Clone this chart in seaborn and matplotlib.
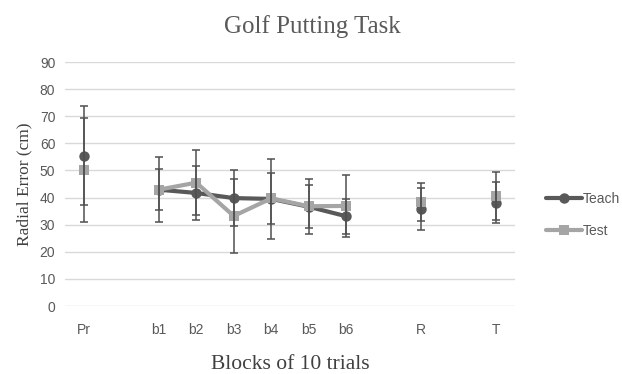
import matplotlib
matplotlib.use("Agg")
import matplotlib.pyplot as plt
from matplotlib.lines import Line2D
import numpy as np
import pandas as pd
import seaborn as sns

# category slots on the x axis (blank slots leave the gaps)
slots = ['Pr', '', 'b1', 'b2', 'b3', 'b4', 'b5', 'b6', '', 'R', '', 'T']
blocks = ['Pr', 'b1', 'b2', 'b3', 'b4', 'b5', 'b6', 'R', 'T']
connected = ['b1', 'b2', 'b3', 'b4', 'b5', 'b6']

teach_mean = [55.5, 42.9, 41.7, 39.8, 39.5, 36.6, 33.1, 35.7, 38.1]
teach_err = [18.3, 12.0, 9.8, 10.4, 14.8, 10.2, 6.5, 7.8, 7.5]
test_mean = [50.2, 42.9, 45.5, 33.2, 39.7, 36.8, 36.9, 38.4, 40.7]
test_err = [19.2, 7.5, 12.1, 13.8, 9.5, 8.0, 11.4, 7.1, 8.9]

teach_col = '#595959'
test_col = '#a5a5a5'
err_col = '#505050'

pos = {lab: i for i, lab in enumerate(slots) if lab}
df = pd.DataFrame({
    'block': blocks * 2,
    'series': ['Teach'] * len(blocks) + ['Test'] * len(blocks),
    'mean': teach_mean + test_mean,
    'err': teach_err + test_err,
})
df['x'] = df['block'].map(pos)

sns.set_theme(style='white')
fig = plt.figure(figsize=(6.22, 3.74), dpi=100)
ax = fig.add_axes([65 / 622, 68 / 374, 450 / 622, 244 / 374])

styles = {'Teach': (teach_col, 'o', 7.5), 'Test': (test_col, 's', 7.5)}
for i, name in enumerate(['Teach', 'Test']):
    col, mk, ms = styles[name]
    sub = df[df['series'] == name]
    line = sub[sub['block'].isin(connected)]
    sns.lineplot(data=line, x='x', y='mean', color=col, linewidth=3.0,
                 marker=mk, markersize=ms, markeredgewidth=0, ax=ax,
                 zorder=3 + i, estimator=None, sort=False)
    pts = sub[~sub['block'].isin(connected)]
    ax.plot(pts['x'], pts['mean'], linestyle='none', marker=mk,
            markersize=ms, color=col, markeredgewidth=0, zorder=3 + i)

for name in ['Teach', 'Test']:
    sub = df[df['series'] == name]
    ax.errorbar(sub['x'], sub['mean'], yerr=sub['err'], fmt='none',
                ecolor=err_col, elinewidth=1.1, capsize=3.2,
                capthick=1.1, zorder=6)

ax.set_xlim(-0.5, len(slots) - 0.5)
ax.set_ylim(0, 90)
ax.set_yticks(np.arange(0, 91, 10))
ax.set_xticks(range(len(slots)))
ax.set_xticklabels(slots)
ax.yaxis.grid(True, color='#d9d9d9', linewidth=1.0)
ax.set_axisbelow(True)
for s in ax.spines.values():
    s.set_visible(False)
ax.tick_params(axis='both', length=0, labelsize=10, colors='#595959')
ax.tick_params(axis='x', pad=12)
ax.tick_params(axis='y', pad=7)
for t in ax.get_xticklabels() + ax.get_yticklabels():
    t.set_fontfamily('Liberation Sans')

serif = 'Liberation Serif'
ax.set_xlabel('Blocks of 10 trials', fontfamily=serif, fontsize=15.5,
              color='#404040', labelpad=13)
ax.set_ylabel('Radial Error (cm)', fontfamily=serif, fontsize=12.5,
              color='#404040', labelpad=5)
fig.text(312 / 622, 1 - 27 / 374, 'Golf Putting Task', fontfamily=serif,
         fontsize=18, color='#595959', ha='center', va='center')

handles = [
    Line2D([], [], color=teach_col, marker='o', linewidth=3.0,
           markersize=7.5, markeredgewidth=0),
    Line2D([], [], color=test_col, marker='s', linewidth=3.0,
           markersize=7.5, markeredgewidth=0),
]
leg = fig.legend(handles, ['Teach', 'Test'], loc='center left',
                 bbox_to_anchor=(533 / 622, 1 - 215 / 374), frameon=False,
                 handlelength=2.6, handletextpad=0.1, labelspacing=1.3,
                 prop={'family': 'Liberation Sans', 'size': 10})
for t in leg.get_texts():
    t.set_color('#595959')

fig.savefig('out.png', dpi=100)
